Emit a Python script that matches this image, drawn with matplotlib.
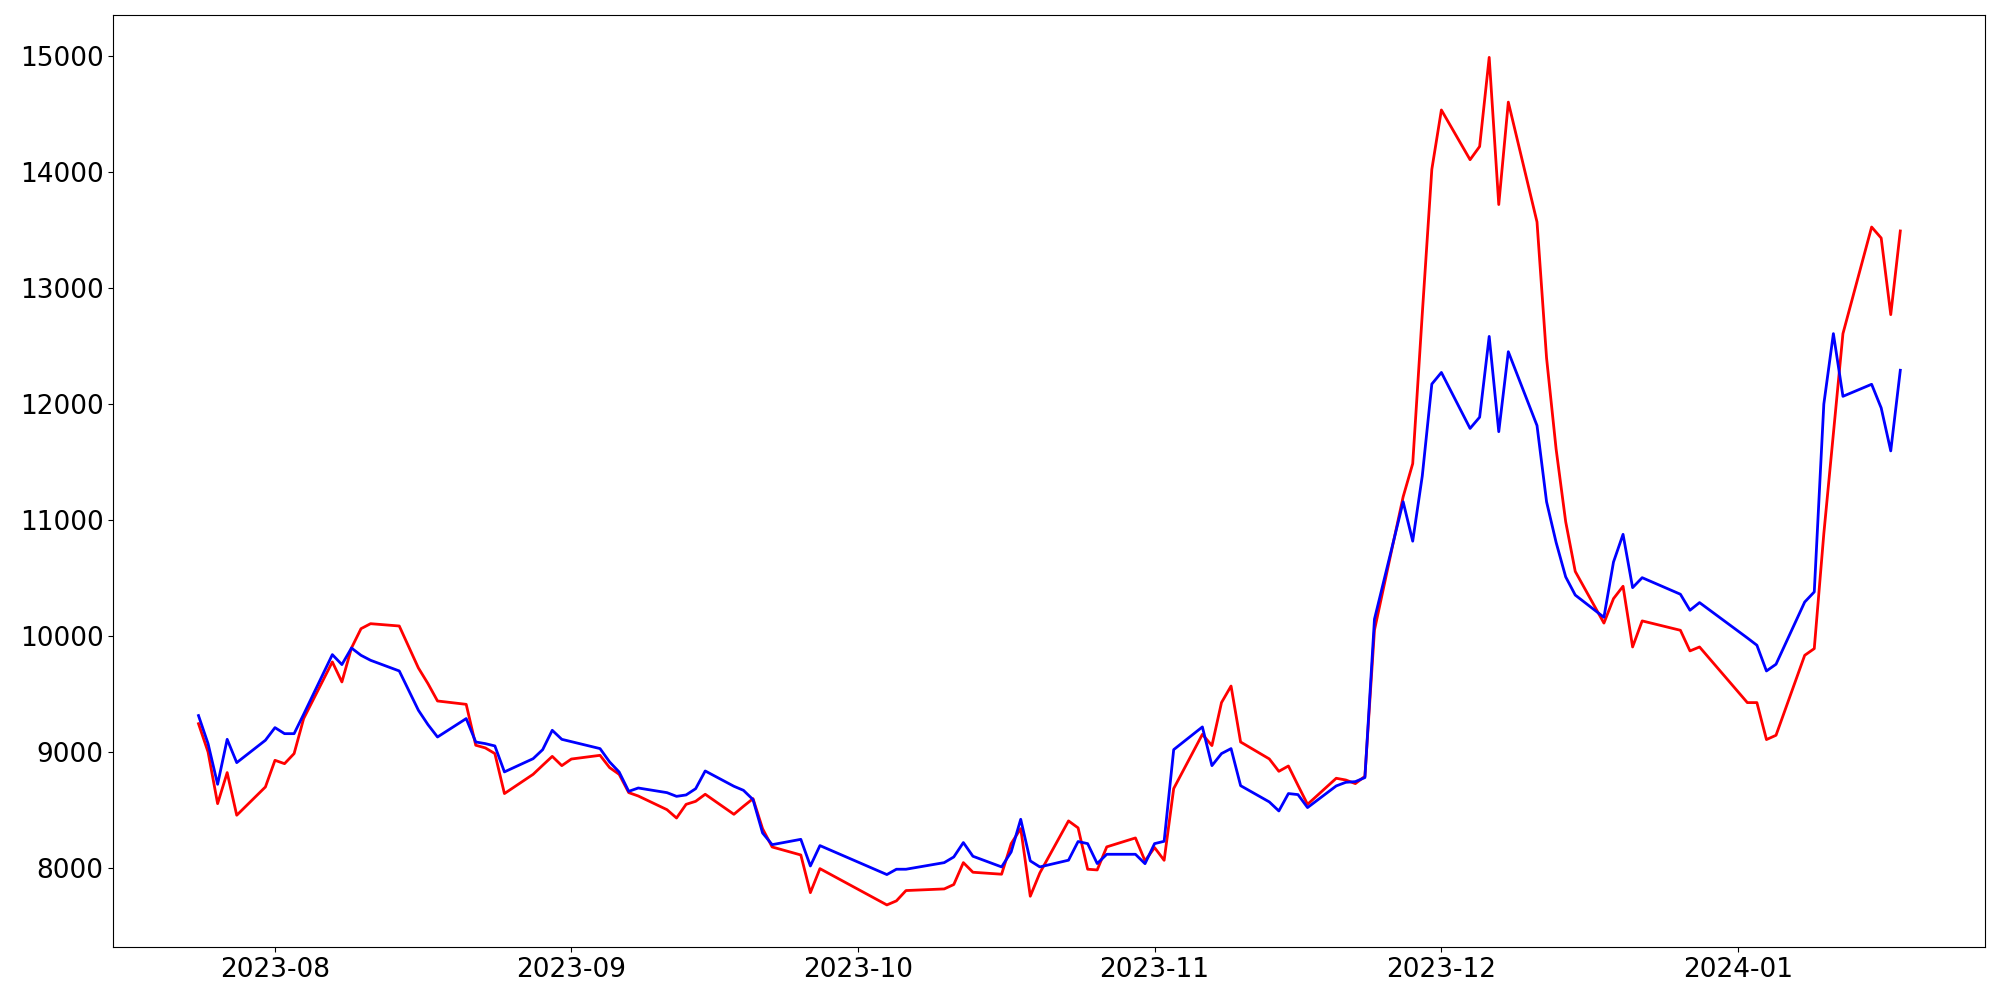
from matplotlib import pyplot
import pandas as pd

# KRX trading days, Jul 24 2023 - Jan 18 2024
holidays = ['2023-08-15', '2023-09-28', '2023-09-29', '2023-10-02', '2023-10-03',
            '2023-10-09', '2023-12-25', '2023-12-29', '2024-01-01']
start_date = '2023-07-24'
end_date = '2024-01-18'

red_vals = [9242, 8998, 8552, 8820, 8452, 8696,
            8926, 8897, 8984, 9286, 9775, 9602, 9895, 10062, 10105, 10085, 9723, 9588, 9438, 9409,
            9056, 9033, 8984, 8639, 8805, 8883, 8960, 8880,
            8937, 8969, 8863, 8805, 8647, 8618, 8500, 8428, 8546, 8572, 8633, 8460, 8529, 8595,
            8336, 8178, 8109, 7784, 7991,
            7678, 7713, 7802, 7816, 7854, 8043, 7960, 7943, 8207, 8337, 7753, 7954, 8403, 8343,
            7986, 7980, 8179, 8256, 8058,
            8173, 8063, 8682, 9150, 9053, 9424, 9567, 9084, 8938, 8831, 8877, 8710, 8546, 8771,
            8756, 8725, 8788, 10050, 11200, 11486, 12778, 14026,
            14538, 14109, 14223, 14992, 13722, 14606, 13572, 12398, 11611, 10985, 10556, 10110,
            10321, 10428, 9904, 10129, 10048, 9870, 9904,
            9424, 9424, 9105, 9142, 9832, 9890, 10882, 11745, 12608, 13528, 13433, 12772, 13494]

blue_vals = [9312, 9070, 8719, 9107, 8906, 9099,
             9208, 9156, 9156, 9323, 9838, 9752, 9895, 9832, 9789, 9697, 9358, 9234, 9127, 9286,
             9084, 9070, 9050, 8826, 8940, 9018, 9185, 9107,
             9087, 9027, 8912, 8825, 8658, 8687, 8647, 8615, 8627, 8681, 8834, 8702, 8667, 8587,
             8299, 8198, 8244, 8014, 8190,
             7940, 7986, 7986, 8043, 8092, 8216, 8098, 8006, 8135, 8417, 8058, 8006, 8064, 8225,
             8207, 8035, 8115, 8115, 8034,
             8207, 8227, 9018, 9214, 8880, 8984, 9027, 8707, 8567, 8489, 8639, 8630, 8518, 8705,
             8736, 8742, 8777, 10144, 11157, 10817, 11379, 12173,
             12273, 11790, 11887, 12584, 11762, 12452, 11815, 11157, 10806, 10509, 10352, 10160,
             10637, 10876, 10416, 10502, 10359, 10221, 10287,
             9982, 9919, 9697, 9755, 10292, 10379, 12000, 12608, 12067, 12171, 11967, 11596, 12292]


def make_plot(outfile):
    dates = pd.bdate_range(start_date, end_date, freq='C', holidays=holidays)
    fig = pyplot.figure(figsize=(20, 10), dpi=100)
    ax = fig.add_subplot(1, 1, 1)
    ax.plot(dates, red_vals, color='red', linewidth=2)
    ax.plot(dates, blue_vals, color='blue', linewidth=2)
    ax.tick_params(labelsize=19)
    fig.subplots_adjust(left=0.0567, right=0.9927, top=0.985, bottom=0.0527)
    fig.savefig(outfile)
    pyplot.close()


if __name__ == "__main__":
    make_plot('out.png')
